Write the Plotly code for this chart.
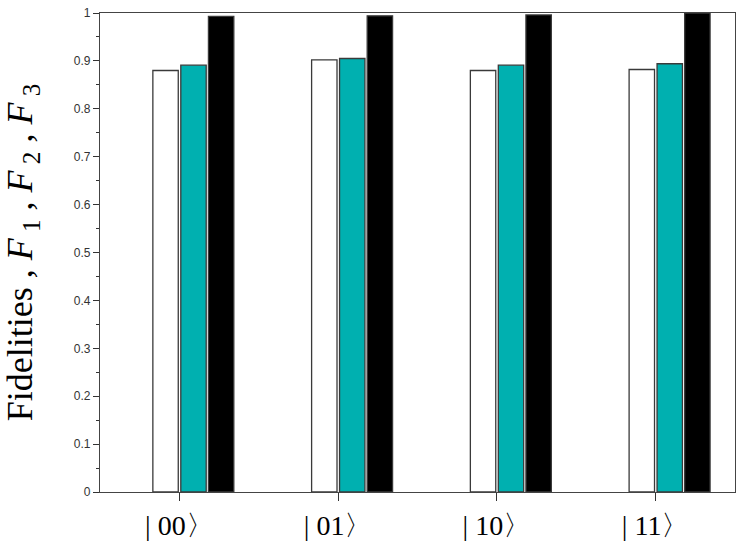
import plotly.graph_objects as go

# Data
states = ["| 00〉", "| 01〉", "| 10〉", "| 11〉"]
positions = [1, 2, 3, 4]
F1 = [0.880, 0.902, 0.880, 0.882]
F2 = [0.891, 0.905, 0.891, 0.894]
F3 = [0.993, 0.994, 0.996, 1.000]

y_ticks = [0, 0.1, 0.2, 0.3, 0.4, 0.5, 0.6, 0.7, 0.8, 0.9, 1.0]

SERIF = "Liberation Serif"
SANS = "Liberation Sans"

# bar placement relative to each category tick (Origin-style)
bar_w = 0.16
series = [
    (F1, "white", -0.167),
    (F2, "#00B0B0", 0.009),
    (F3, "black", 0.183),
]

fig = go.Figure()
for vals, color, off in series:
    fig.add_trace(go.Bar(
        x=positions, y=vals, width=bar_w, offset=off,
        marker=dict(color=color, line=dict(color="#3a3a3a", width=1.3)),
        showlegend=False,
    ))

fig.update_layout(
    width=747, height=548,
    margin=dict(l=100, r=12, t=13, b=56, autoexpand=False),
    paper_bgcolor="white", plot_bgcolor="white",
    barmode="overlay",
)

fig.update_xaxes(
    range=[0.5, 4.5], automargin=False,
    tickvals=positions, ticktext=states,
    tickfont=dict(family=SERIF, size=28, color="black"),
    ticks="outside", ticklen=8, tickwidth=1.2, tickcolor="#333",
    showline=True, linecolor="#444", linewidth=1.3, mirror=True,
    showgrid=False, zeroline=False,
)

fig.update_yaxes(
    range=[0, 1], automargin=False,
    tickvals=y_ticks,
    tickfont=dict(family=SANS, size=12, color="#333"),
    ticks="outside", ticklen=6, tickwidth=1.2, tickcolor="#333",
    minor=dict(dtick=0.05, ticks="outside", ticklen=3, tickcolor="#333", showgrid=False),
    showline=True, linecolor="#444", linewidth=1.3, mirror=True,
    showgrid=False, zeroline=False,
    title=dict(
        text="Fidelities , <i>F</i><sub> 1</sub> , <i>F</i><sub> 2</sub> , <i>F</i><sub> 3</sub>\u00a0\u00a0",
        font=dict(family=SERIF, size=36, color="black"),
        standoff=32,
    ),
)

# drop the default 8px page margin so the figure sits at the window's corner
fig.write_html("out.html", config={"displayModeBar": False},
               post_script="document.body.style.margin='0';")
